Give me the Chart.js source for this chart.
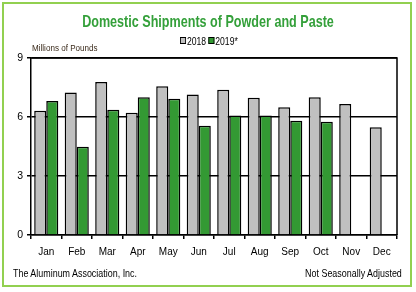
<!DOCTYPE html>
<html>
<head>
<meta charset="utf-8">
<script src="https://cdn.jsdelivr.net/npm/chart.js@4"></script>
<style>
  html, body { margin: 0; padding: 0; background: #fff; }
  #wrap { position: relative; width: 416px; height: 292px; overflow: hidden; font-family: "Liberation Sans", Arial, sans-serif; }
  #frame { position: absolute; left: 2px; top: 2px; width: 406px; height: 281px; border: 2px solid #92d050; }
  canvas { position: absolute; left: 0; top: 0; }
  .txt { position: absolute; white-space: nowrap; color: #000; transform-origin: 0 50%; }
  #title { left: 0; width: 416px; top: 12px; text-align: center; font-size: 17px; font-weight: bold; color: #34a03a; transform-origin: 50% 50%; transform: scaleX(0.74); }
  #legend { left: 180px; top: 36px; font-size: 10px; transform: scaleX(0.86); }
  .box { display: inline-block; width: 5px; height: 5px; border: 1px solid #000; vertical-align: 1px; margin-right: 1px; }
  #ylab { left: 32px; top: 42px; font-size: 9.5px; color: #3a2a1a; transform: scaleX(0.85); }
  #foot1 { left: 13px; top: 267px; font-size: 10.5px; transform: scaleX(0.85); }
  #foot2 { right: 14px; top: 267px; font-size: 10.5px; transform-origin: 100% 50%; transform: scaleX(0.85); }
</style>
</head>
<body>
<div id="wrap">
  <div id="frame"></div>
  <canvas id="chart" width="416" height="292"></canvas>
  <div class="txt" id="title">Domestic Shipments of Powder and Paste</div>
  <div class="txt" id="legend"><span class="box" style="background:#c0c0c0"></span>2018&nbsp;<span class="box" style="background:#339933"></span>2019*</div>
  <div class="txt" id="ylab">Millions of Pounds</div>
  <div class="txt" id="foot1">The Aluminum Association, Inc.</div>
  <div class="txt" id="foot2">Not Seasonally Adjusted</div>
</div>
<script>
// months on the x axis
var months = ['Jan', 'Feb', 'Mar', 'Apr', 'May', 'Jun', 'Jul', 'Aug', 'Sep', 'Oct', 'Nov', 'Dec'];
// millions of pounds
var shipments2018 = [6.32, 7.24, 7.78, 6.22, 7.56, 7.15, 7.39, 6.98, 6.49, 7.00, 6.66, 5.48];
var shipments2019 = [6.81, 4.49, 6.37, 7.00, 6.93, 5.56, 6.08, 6.07, 5.81, 5.76, null, null];
var yTicks = [0, 3, 6, 9];

// outline round the plot area (right side has no axis of its own)
var frameBox = {
  id: 'frameBox',
  afterDraw: function(chart) {
    var a = chart.chartArea, ctx = chart.ctx;
    ctx.save();
    ctx.strokeStyle = '#000';
    ctx.lineWidth = 1.5;
    ctx.beginPath();
    ctx.moveTo(a.left, a.top);
    ctx.lineTo(a.right, a.top);
    ctx.lineTo(a.right, a.bottom);
    ctx.stroke();
    ctx.restore();
  }
};

new Chart(document.getElementById('chart'), {
  type: 'bar',
  data: {
    labels: months,
    datasets: [{
      label: '2018',
      data: shipments2018,
      backgroundColor: '#c0c0c0',
      borderColor: '#000',
      borderWidth: 1.5,
      borderSkipped: 'bottom'
    }, {
      label: '2019*',
      data: shipments2019,
      backgroundColor: '#339933',
      borderColor: '#000',
      borderWidth: 1.5,
      borderSkipped: 'bottom'
    }]
  },
  options: {
    responsive: false,
    animation: false,
    events: [],
    layout: { padding: { left: 0, top: 58, right: 19, bottom: 0 } },
    datasets: { bar: { categoryPercentage: 0.79, barPercentage: 1.0 } },
    plugins: { legend: { display: false }, title: { display: false }, tooltip: { enabled: false } },
    scales: {
      x: {
        grid: { drawOnChartArea: false, drawTicks: true, tickLength: 4, color: '#000', lineWidth: 1.5, offset: true },
        border: { color: '#000', width: 1.5 },
        ticks: { color: '#000', font: { family: 'Liberation Sans', size: 10 }, padding: 7, maxRotation: 0 },
        afterFit: function(s) { s.height = 57; }
      },
      y: {
        min: 0, max: 9,
        afterBuildTicks: function(s) { s.ticks = yTicks.map(function(v) { return { value: v }; }); },
        grid: { color: '#000', lineWidth: 1.5, tickLength: 4 },
        border: { color: '#000', width: 1.5 },
        ticks: { color: '#000', font: { family: 'Liberation Sans', size: 10.5 }, padding: 4 },
        afterFit: function(s) { s.width = 31; }
      }
    }
  },
  plugins: [frameBox]
});
</script>
</body>
</html>
